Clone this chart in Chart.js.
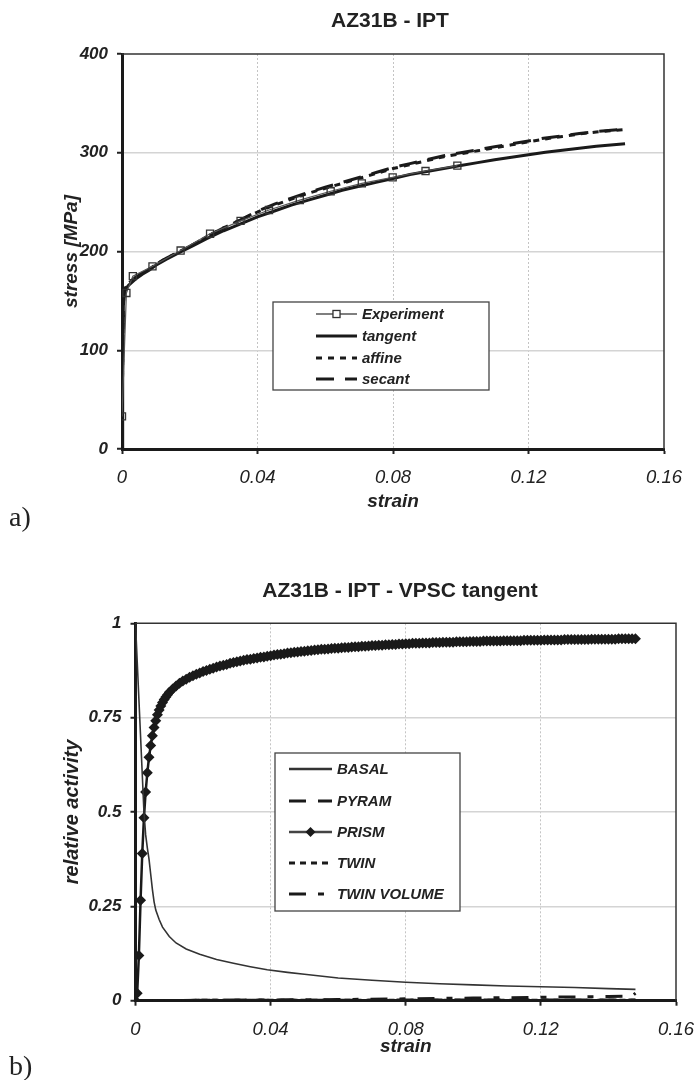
<!DOCTYPE html>
<html>
<head>
<meta charset="utf-8">
<script src="https://cdn.jsdelivr.net/npm/chart.js@4.4.1/dist/chart.umd.min.js"></script>
<style>
  body { margin: 0; background: #fff; width: 696px; height: 1080px; position: relative; overflow: hidden; }
  .panel { position: absolute; left: 0; width: 696px; height: 540px; }
  #panelA { top: 0; }
  #panelB { top: 540px; }
  .tag { position: absolute; left: 9px; font-family: "Liberation Serif", "DejaVu Serif", serif; font-size: 28px; line-height: 28px; color: #222; }
</style>
</head>
<body>
<div class="panel" id="panelA"><canvas id="chartA" width="696" height="540"></canvas></div>
<div class="panel" id="panelB"><canvas id="chartB" width="696" height="540"></canvas></div>
<div class="tag" style="top:503px">a)</div>
<div class="tag" style="top:1052px">b)</div>
<script>
// ---- axis ticks ----
const strainTicks = [0, 0.04, 0.08, 0.12, 0.16];
const strainTickLabels = ['0', '0.04', '0.08', '0.12', '0.16'];
const stressTicks = [0, 100, 200, 300, 400];
const stressTickLabels = ['0', '100', '200', '300', '400'];
const activityTicks = [0, 0.25, 0.5, 0.75, 1];
const activityTickLabels = ['0', '0.25', '0.5', '0.75', '1'];

// ---- a) stress-strain ----
const expStrain = [0, 0.0013, 0.0032, 0.009, 0.0173, 0.026, 0.035, 0.0434, 0.0525, 0.0616, 0.0708, 0.0799, 0.0896, 0.099];
const expStress = [33, 158, 175, 185, 201, 218, 231, 242, 252, 261, 269, 275, 281.5, 287];

const modelStrain = [0, 0.0002, 0.0004, 0.0007, 0.001, 0.0015, 0.002, 0.003, 0.004, 0.006, 0.008, 0.01, 0.013, 0.017, 0.021, 0.025, 0.03, 0.035, 0.04, 0.045, 0.05, 0.055, 0.06, 0.065, 0.07, 0.075, 0.08, 0.085, 0.09, 0.095, 0.1, 0.105, 0.11, 0.115, 0.12, 0.125, 0.13, 0.135, 0.14, 0.1485];
const tangentStress = [0, 90, 145, 157, 161, 164, 166, 169, 172, 177, 181, 186, 192, 199, 206, 213, 221, 228, 235, 241, 247, 252, 257, 262, 266, 270, 274, 278, 281, 284, 287, 290, 293, 295.5, 298, 300.5, 302.5, 304.5, 306.5, 309];
const affineStress = [0, 92, 148, 159, 163, 166, 168, 171, 174, 178, 182, 187, 193, 200, 207, 215, 224, 232, 240, 247, 253, 259, 264, 269, 274, 279, 284, 288, 292, 296, 299, 302, 305, 308, 311, 314, 316.5, 319, 321, 323.5];
const secantStress = [0, 92, 148, 159, 163, 166, 168, 171, 174, 178, 182, 187, 193, 200, 207, 215, 224, 232, 241, 248, 254, 260, 265, 270, 275, 280, 285, 289, 293, 297, 300, 303, 306, 309, 312, 315, 317, 319.5, 321.5, 324];

// ---- b) relative activity ----
const basalStrain = [0, 0.0005, 0.001, 0.0015, 0.002, 0.0025, 0.003, 0.0035, 0.004, 0.0045, 0.005, 0.0055, 0.006, 0.007, 0.008, 0.01, 0.012, 0.015, 0.019, 0.024, 0.029, 0.034, 0.039, 0.045, 0.05, 0.06, 0.07, 0.08, 0.09, 0.1, 0.11, 0.12, 0.13, 0.14, 0.148];
const basalActivity = [1.0, 0.9, 0.8, 0.7, 0.6, 0.5, 0.44, 0.405, 0.375, 0.335, 0.295, 0.262, 0.24, 0.215, 0.195, 0.17, 0.153, 0.137, 0.123, 0.109, 0.099, 0.09, 0.082, 0.075, 0.07, 0.06, 0.054, 0.049, 0.045, 0.042, 0.039, 0.037, 0.035, 0.032, 0.03];

const prismStrain = [
  0, 0.0005, 0.001, 0.0015, 0.002, 0.0025, 0.003, 0.0035, 0.004, 0.0045,
  0.005, 0.0055, 0.006, 0.0065, 0.007, 0.0075, 0.008, 0.0085, 0.009, 0.0095,
  0.010, 0.011, 0.012, 0.013, 0.014, 0.015, 0.016, 0.017, 0.018, 0.019,
  0.020, 0.021, 0.022, 0.023, 0.024, 0.025, 0.026, 0.027, 0.028, 0.029,
  0.030, 0.031, 0.032, 0.033, 0.034, 0.035, 0.036, 0.037, 0.038, 0.039,
  0.040, 0.041, 0.042, 0.043, 0.044, 0.045, 0.046, 0.047, 0.048, 0.049,
  0.050, 0.051, 0.052, 0.053, 0.054, 0.055, 0.056, 0.057, 0.058, 0.059,
  0.060, 0.061, 0.062, 0.063, 0.064, 0.065, 0.066, 0.067, 0.068, 0.069,
  0.070, 0.071, 0.072, 0.073, 0.074, 0.075, 0.076, 0.077, 0.078, 0.079,
  0.080, 0.081, 0.082, 0.083, 0.084, 0.085, 0.086, 0.087, 0.088, 0.089,
  0.090, 0.091, 0.092, 0.093, 0.094, 0.095, 0.096, 0.097, 0.098, 0.099,
  0.100, 0.101, 0.102, 0.103, 0.104, 0.105, 0.106, 0.107, 0.108, 0.109,
  0.110, 0.111, 0.112, 0.113, 0.114, 0.115, 0.116, 0.117, 0.118, 0.119,
  0.120, 0.121, 0.122, 0.123, 0.124, 0.125, 0.126, 0.127, 0.128, 0.129,
  0.130, 0.131, 0.132, 0.133, 0.134, 0.135, 0.136, 0.137, 0.138, 0.139,
  0.140, 0.141, 0.142, 0.143, 0.144, 0.145, 0.146, 0.147, 0.148];
const prismActivity = [
  0, 0.02, 0.12, 0.266, 0.39, 0.485, 0.553, 0.604, 0.645, 0.676,
  0.702, 0.724, 0.742, 0.758, 0.770, 0.781, 0.790, 0.798, 0.805, 0.811,
  0.817, 0.826, 0.834, 0.841, 0.847, 0.852, 0.857, 0.861, 0.865, 0.868,
  0.872, 0.875, 0.878, 0.881, 0.884, 0.887, 0.889, 0.891, 0.894, 0.896,
  0.898, 0.900, 0.902, 0.904, 0.905, 0.907, 0.908, 0.910, 0.911, 0.913,
  0.914, 0.916, 0.917, 0.918, 0.919, 0.921, 0.922, 0.923, 0.924, 0.925,
  0.926, 0.927, 0.928, 0.929, 0.930, 0.931, 0.931, 0.932, 0.933, 0.934,
  0.934, 0.935, 0.936, 0.936, 0.937, 0.938, 0.938, 0.939, 0.939, 0.940,
  0.941, 0.941, 0.942, 0.942, 0.943, 0.943, 0.944, 0.944, 0.945, 0.945,
  0.946, 0.946, 0.947, 0.947, 0.947, 0.948, 0.948, 0.948, 0.949, 0.949,
  0.949, 0.950, 0.950, 0.950, 0.950, 0.951, 0.951, 0.951, 0.951, 0.952,
  0.952, 0.952, 0.952, 0.953, 0.953, 0.953, 0.953, 0.953, 0.953, 0.954,
  0.954, 0.954, 0.954, 0.954, 0.954, 0.955, 0.955, 0.955, 0.955, 0.955,
  0.955, 0.956, 0.956, 0.956, 0.956, 0.956, 0.956, 0.957, 0.957, 0.957,
  0.957, 0.957, 0.957, 0.957, 0.957, 0.958, 0.958, 0.958, 0.958, 0.958,
  0.958, 0.958, 0.958, 0.959, 0.959, 0.959, 0.959, 0.959, 0.959];

const minorStrain = [0, 0.02, 0.04, 0.06, 0.08, 0.09, 0.1, 0.11, 0.12, 0.13, 0.14, 0.147, 0.148];
const pyramActivity = [0, 0.001, 0.001, 0.001, 0.002, 0.002, 0.002, 0.002, 0.002, 0.002, 0.002, 0.002, 0.002];
const twinActivity = [0, 0.001, 0.001, 0.001, 0.001, 0.001, 0.001, 0.001, 0.001, 0.001, 0.001, 0.001, 0.001];
const twinVolume = [0, 0.001, 0.002, 0.003, 0.005, 0.006, 0.007, 0.008, 0.009, 0.01, 0.011, 0.012, 0.02];

// ---- helpers ----
const FONT = '"Liberation Sans", Arial, sans-serif';
const INK = '#222';
const NONE = 'rgba(0,0,0,0)';

function pts(xs, ys) {
    return xs.map((x, i) => ({ x: x, y: ys[i] }));
}

function setTicks(values) {
    return function(scale) {
        scale.ticks = values.map(v => ({ value: v }));
    };
}

function makeScales(o) {
    return {
        x: {
            type: 'linear',
            min: 0,
            max: 0.16,
            afterBuildTicks: setTicks(strainTicks),
            afterFit: function(s) { s.height = o.xHeight; s.paddingLeft = 0; s.paddingRight = 0; },
            ticks: {
                autoSkip: false,
                maxRotation: 0,
                padding: 13,
                color: INK,
                font: { family: FONT, size: 18.5, style: 'italic' },
                callback: (v, i) => strainTickLabels[i]
            },
            grid: {
                color: c => (c.tick && c.tick.value > 0 && c.tick.value < 0.16) ? '#c4c4c4' : NONE,
                lineWidth: 1,
                tickColor: INK,
                tickLength: 5,
                tickWidth: 2
            },
            border: { color: '#1a1a1a', width: 3, dash: [2, 2] },
            title: {
                display: true,
                text: 'strain',
                color: INK,
                font: { family: FONT, size: 19, weight: 'bold', style: 'italic' },
                padding: { top: 0, bottom: o.xTitlePad }
            }
        },
        y: {
            min: 0,
            max: o.yMax,
            afterBuildTicks: setTicks(o.yTicks),
            afterFit: function(s) { s.width = o.yWidth; s.paddingTop = 0; s.paddingBottom = 0; },
            ticks: {
                padding: 9,
                color: INK,
                font: { family: FONT, size: 17, weight: 'bold', style: 'italic' },
                callback: (v, i) => o.yLabels[i]
            },
            grid: {
                color: c => (c.tick && c.tick.value > 0 && c.tick.value < o.yMax) ? '#d4d4d4' : NONE,
                lineWidth: 1.5,
                tickColor: INK,
                tickLength: 5,
                tickWidth: 2
            },
            border: { color: '#1a1a1a', width: 3 },
            title: {
                display: true,
                text: o.yTitle,
                color: INK,
                font: { family: FONT, size: o.yTitleSize, weight: 'bold', style: 'italic' },
                padding: { top: o.yTitlePad, bottom: 0 }
            }
        }
    };
}

// title, thin frame on top/right, legend box inside the plot
const sheet = {
    id: 'sheet',
    beforeDatasetsDraw(chart, args, opts) {
        const a = chart.chartArea;
        const ctx = chart.ctx;
        ctx.save();
        ctx.strokeStyle = '#333';
        ctx.lineWidth = 1.5;
        ctx.beginPath();
        ctx.moveTo(a.left, a.top);
        ctx.lineTo(a.right, a.top);
        ctx.lineTo(a.right, a.bottom);
        ctx.stroke();
        ctx.restore();
    },
    afterDatasetsDraw(chart, args, opts) {
        const ctx = chart.ctx;
        const L = opts.legend;
        ctx.save();
        ctx.fillStyle = '#fff';
        ctx.fillRect(L.x, L.y, L.w, L.h);
        ctx.strokeStyle = '#444';
        ctx.lineWidth = 1.3;
        ctx.strokeRect(L.x, L.y, L.w, L.h);
        ctx.font = 'italic bold 15px ' + FONT;
        ctx.textBaseline = 'middle';
        ctx.textAlign = 'left';
        chart.data.datasets.forEach(function(ds, i) {
            const y = L.rows[i];
            ctx.strokeStyle = ds.legendColor || ds.borderColor;
            ctx.lineWidth = ds.legendWidth || ds.borderWidth;
            ctx.setLineDash(ds.borderDash || []);
            ctx.beginPath();
            ctx.moveTo(L.x0, y);
            ctx.lineTo(L.x1, y);
            ctx.stroke();
            ctx.setLineDash([]);
            const cx = (L.x0 + L.x1) / 2;
            if (ds.pointStyle === 'rect' && ds.pointRadius > 0) {
                const s = ds.pointRadius * Math.SQRT1_2;
                ctx.fillStyle = '#fff';
                ctx.fillRect(cx - s, y - s, 2 * s, 2 * s);
                ctx.strokeStyle = ds.pointBorderColor;
                ctx.lineWidth = ds.pointBorderWidth;
                ctx.strokeRect(cx - s, y - s, 2 * s, 2 * s);
            } else if (ds.pointStyle === 'rectRot' && ds.pointRadius > 0) {
                const r = 5;
                ctx.fillStyle = ds.pointBackgroundColor;
                ctx.beginPath();
                ctx.moveTo(cx, y - r);
                ctx.lineTo(cx + r, y);
                ctx.lineTo(cx, y + r);
                ctx.lineTo(cx - r, y);
                ctx.closePath();
                ctx.fill();
            }
            ctx.fillStyle = INK;
            ctx.fillText(ds.label, L.tx, y + 1);
        });
        ctx.restore();
    },
    afterDraw(chart, args, opts) {
        const ctx = chart.ctx;
        ctx.save();
        ctx.font = 'bold 21px ' + FONT;
        ctx.fillStyle = INK;
        ctx.textAlign = 'center';
        ctx.textBaseline = 'middle';
        ctx.fillText(opts.title.text, opts.title.x, opts.title.y);
        ctx.restore();
    }
};

// ---- chart a ----
new Chart(document.getElementById('chartA'), {
    type: 'line',
    plugins: [sheet],
    data: {
        datasets: [
            {
                label: 'Experiment',
                data: pts(expStrain, expStress),
                borderColor: '#555',
                borderWidth: 1.2,
                legendWidth: 1.5,
                pointStyle: 'rect',
                pointRadius: 5,
                pointBackgroundColor: NONE,
                pointBorderColor: '#333',
                pointBorderWidth: 1.3,
                tension: 0
            },
            {
                label: 'tangent',
                data: pts(modelStrain, tangentStress),
                borderColor: '#1a1a1a',
                borderWidth: 3,
                pointRadius: 0,
                tension: 0
            },
            {
                label: 'affine',
                data: pts(modelStrain, affineStress),
                borderColor: '#1a1a1a',
                borderWidth: 3,
                borderDash: [6, 6],
                pointRadius: 0,
                tension: 0
            },
            {
                label: 'secant',
                data: pts(modelStrain, secantStress),
                borderColor: '#1a1a1a',
                borderWidth: 3,
                borderDash: [18, 11],
                pointRadius: 0,
                tension: 0
            }
        ]
    },
    options: {
        responsive: false,
        animation: false,
        events: [],
        layout: { padding: { top: 54, right: 32, left: 0, bottom: 0 } },
        scales: makeScales({
            xHeight: 91, xTitlePad: 27,
            yWidth: 122, yMax: 400, yTicks: stressTicks, yLabels: stressTickLabels,
            yTitle: 'stress [MPa]', yTitleSize: 19, yTitlePad: 60.5
        }),
        plugins: {
            legend: { display: false },
            tooltip: { enabled: false },
            sheet: {
                title: { text: 'AZ31B - IPT', x: 390, y: 21 },
                legend: { x: 273, y: 302, w: 216, h: 88, x0: 316, x1: 357, tx: 362, rows: [314, 336, 358, 379] }
            }
        }
    }
});

// ---- chart b ----
new Chart(document.getElementById('chartB'), {
    type: 'line',
    plugins: [sheet],
    data: {
        datasets: [
            {
                label: 'BASAL',
                data: pts(basalStrain, basalActivity),
                borderColor: '#333',
                borderWidth: 1.6,
                legendWidth: 2.5,
                pointRadius: 0,
                tension: 0
            },
            {
                label: 'PYRAM',
                data: pts(minorStrain, pyramActivity),
                borderColor: '#1a1a1a',
                borderWidth: 3,
                borderDash: [17, 12],
                pointRadius: 0,
                tension: 0
            },
            {
                label: 'PRISM',
                data: pts(prismStrain, prismActivity),
                borderColor: '#1a1a1a',
                borderWidth: 2.5,
                legendColor: '#444',
                pointStyle: 'rectRot',
                pointRadius: 5.5,
                pointBackgroundColor: '#1a1a1a',
                pointBorderColor: '#1a1a1a',
                pointBorderWidth: 0,
                tension: 0
            },
            {
                label: 'TWIN',
                data: pts(minorStrain, twinActivity),
                borderColor: '#1a1a1a',
                borderWidth: 3,
                borderDash: [6, 5],
                pointRadius: 0,
                tension: 0
            },
            {
                label: 'TWIN VOLUME',
                data: pts(minorStrain, twinVolume),
                borderColor: '#1a1a1a',
                borderWidth: 3,
                borderDash: [17, 12, 6, 12],
                pointRadius: 0,
                tension: 0
            }
        ]
    },
    options: {
        responsive: false,
        animation: false,
        events: [],
        layout: { padding: { top: 83.3, right: 20, left: 0, bottom: 0 } },
        scales: makeScales({
            xHeight: 79.3, xTitlePad: 21.5,
            yWidth: 135.5, yMax: 1, yTicks: activityTicks, yLabels: activityTickLabels,
            yTitle: 'relative activity', yTitleSize: 20, yTitlePad: 60
        }),
        plugins: {
            legend: { display: false },
            tooltip: { enabled: false },
            sheet: {
                title: { text: 'AZ31B - IPT - VPSC tangent', x: 400, y: 51.5 },
                legend: { x: 275, y: 213, w: 185, h: 158, x0: 289, x1: 332, tx: 337, rows: [229, 261, 292, 323, 354] }
            }
        }
    }
});
</script>
</body>
</html>
